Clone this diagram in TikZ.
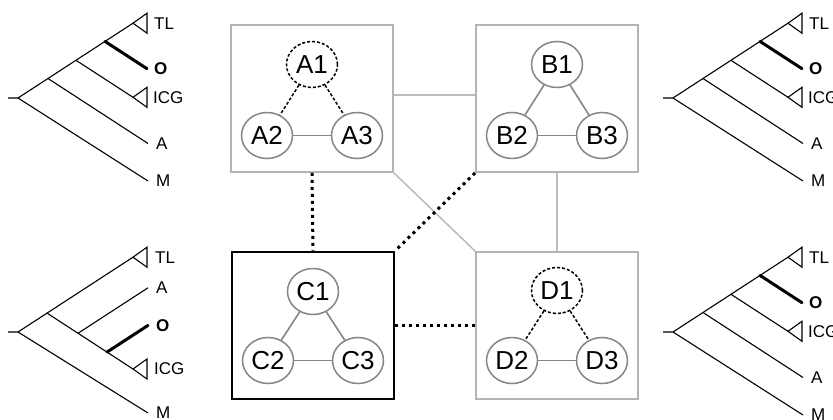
\documentclass[tikz,border=0pt]{standalone}
\usepackage{fontspec}
\setmainfont{Liberation Sans}
\usetikzlibrary{shapes.geometric,calc}

\definecolor{boxgray}{HTML}{B4B4B4}
\definecolor{circgray}{HTML}{868686}
\definecolor{linkgray}{HTML}{BBBBBB}

% ladderised tree: TL, O, ICG, A, M
\newcommand\ladtree[3]{%
  \begin{scope}[shift={(#2,#3)}]
    \coordinate (#1stub) at (-10,0);
    \coordinate (#1r) at (0,0);
    \coordinate (#1n1) at (30,-19.5);
    \coordinate (#1n2) at (58,-37.7);
    \coordinate (#1n3) at (87,-56.6);
    \coordinate (#1tl) at (115,-74.8);
    \coordinate (#1o) at (129,-29.3);
    \coordinate (#1icg) at (115,-0.7);
    \coordinate (#1a) at (130,45.5);
    \coordinate (#1m) at (130,83);
  \end{scope}
  \draw[branch] (#1stub) -- (#1r) -- (#1tl);
  \draw[branch] (#1r) -- (#1m);
  \draw[branch] (#1n1) -- (#1a);
  \draw[branch] (#1n2) -- (#1icg);
  \draw[obranch] (#1n3) -- (#1o);
  \draw[branch] (#1tl) -- ++(14,-10) -- ++(0,20) -- cycle;
  \draw[branch] (#1icg) -- ++(14,-10) -- ++(0,20) -- cycle;
  \node[tip] (#1TL) at ($(#1tl)+(21,0)$) {TL};
  \node[tip] (#1O) at ($(#1o)+(7,0)$) {\bfseries O};
  \node[tip] (#1ICG) at ($(#1icg)+(20,0)$) {ICG};
  \node[tip] (#1A) at ($(#1a)+(8,0)$) {A};
  \node[tip] (#1M) at ($(#1m)+(8,0)$) {M};
}

% tree with A between TL and O: TL, A, O, ICG, M
\newcommand\mixtree[3]{%
  \begin{scope}[shift={(#2,#3)}]
    \coordinate (#1stub) at (-10,0);
    \coordinate (#1r) at (0,0);
    \coordinate (#1n1) at (29,-18.9);
    \coordinate (#1tl) at (115,-74.8);
    \coordinate (#1icg) at (115,37);
    \coordinate (#1n2) at (60,1.3);
    \coordinate (#1a) at (130,-44.2);
    \coordinate (#1n3) at (89,20.1);
    \coordinate (#1o) at (130,-6.6);
    \coordinate (#1m) at (130,81);
  \end{scope}
  \draw[branch] (#1stub) -- (#1r) -- (#1tl);
  \draw[branch] (#1r) -- (#1m);
  \draw[branch] (#1n1) -- (#1icg);
  \draw[branch] (#1n2) -- (#1a);
  \draw[obranch] (#1n3) -- (#1o);
  \draw[branch] (#1tl) -- ++(14,-10) -- ++(0,20) -- cycle;
  \draw[branch] (#1icg) -- ++(14,-10) -- ++(0,20) -- cycle;
  \node[tip] (#1TL) at ($(#1tl)+(22,0)$) {TL};
  \node[tip] (#1A) at ($(#1a)+(8,0)$) {A};
  \node[tip] (#1O) at ($(#1o)+(8,0)$) {\bfseries O};
  \node[tip] (#1ICG) at ($(#1icg)+(21,0)$) {ICG};
  \node[tip] (#1M) at ($(#1m)+(8,0)$) {M};
}

\begin{document}
\begin{tikzpicture}[x=1pt,y=-1pt,
  group/.style={draw=boxgray, line width=1.8pt, minimum width=162pt,
    minimum height=147pt, inner sep=0pt},
  focus/.style={draw=black, line width=2.8pt, minimum width=162pt,
    minimum height=147pt, inner sep=0pt},
  member/.style={ellipse, draw=circgray, line width=1.5pt, fill=white,
    minimum width=51pt, minimum height=46pt, inner sep=0pt,
    font=\fontsize{26}{26}\selectfont},
  hidden/.style={member, draw=black, line width=1.5pt, dash pattern=on 3pt off 2pt},
  link/.style={draw=circgray, line width=1.6pt},
  weak/.style={draw=black, line width=1.5pt, dash pattern=on 3pt off 2pt},
  boxlink/.style={draw=linkgray, line width=1.5pt},
  dotlink/.style={draw=black, line width=3pt, dash pattern=on 3pt off 4pt},
  branch/.style={draw=black, line width=1.1pt},
  obranch/.style={draw=black, line width=3pt, line cap=round},
  tip/.style={font=\fontsize{17}{17}\selectfont, anchor=west, inner sep=0pt}]

\useasboundingbox (0,0) rectangle (833,420);
\fill[white] (0,0) rectangle (833,420);

% group boxes
\node[group] (A) at (312,98.5) {};
\node[group] (B) at (557,98.5) {};
\node[focus] (C) at (313,325.5) {};
\node[group] (D) at (557,325.5) {};

% links between groups
\draw[boxlink] ([yshift=3.5pt]A.east) -- ([yshift=3.5pt]B.west);
\draw[boxlink] (A.south east) -- (D.north west);
\draw[boxlink] (B.south) -- (D.north);
\draw[dotlink] (A.south) -- (C.north);
\draw[dotlink] (B.south west) -- (C.north east);
\draw[dotlink] (C.east) -- (D.west);

% members of each group
\node[hidden] (A1) at ($(A)+(0,-34)$) {A1};
\node[member] (A2) at ($(A)+(-45,37)$) {A2};
\node[member] (A3) at ($(A)+(45,37)$) {A3};
\draw[weak] (A1) -- (A2);
\draw[weak] (A1) -- (A3);
\draw[link] (A2) -- (A3);

\node[member] (B1) at ($(B)+(0,-34)$) {B1};
\node[member] (B2) at ($(B)+(-45,37)$) {B2};
\node[member] (B3) at ($(B)+(45,37)$) {B3};
\draw[link] (B1) -- (B2);
\draw[link] (B1) -- (B3);
\draw[link] (B2) -- (B3);

\node[member] (C1) at ($(C)+(0,-34)$) {C1};
\node[member] (C2) at ($(C)+(-45,35)$) {C2};
\node[member] (C3) at ($(C)+(45,35)$) {C3};
\draw[link] (C1) -- (C2);
\draw[link] (C1) -- (C3);
\draw[link] (C2) -- (C3);

\node[hidden] (D1) at ($(D)+(0,-35)$) {D1};
\node[member] (D2) at ($(D)+(-45,35)$) {D2};
\node[member] (D3) at ($(D)+(45,35)$) {D3};
\draw[weak] (D1) -- (D2);
\draw[weak] (D1) -- (D3);
\draw[link] (D2) -- (D3);

% trees
\ladtree{ta}{18}{98}
\mixtree{tb}{18}{332}
\ladtree{tc}{673}{98}
\ladtree{td}{673}{332}

\end{tikzpicture}
\end{document}
